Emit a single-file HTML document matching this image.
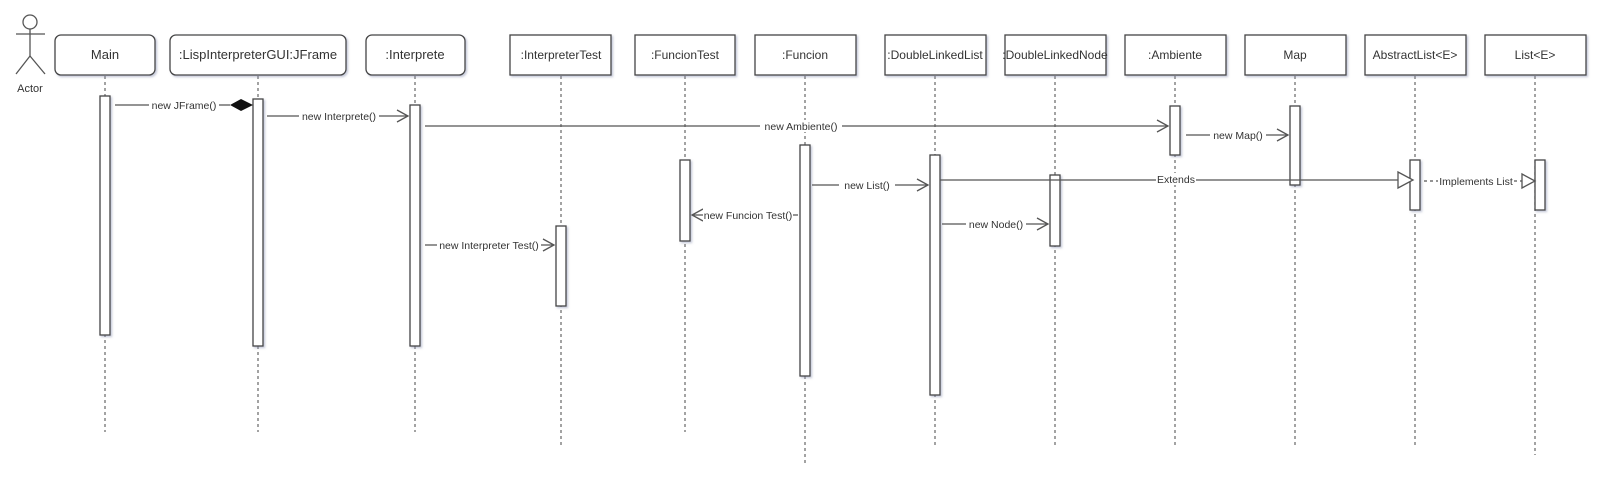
<!DOCTYPE html>
<html><head><style>
html,body{margin:0;padding:0;background:#fff;width:1612px;height:492px;overflow:hidden}
svg text{font-family:"Liberation Sans",sans-serif;fill:#333}
</style></head><body>
<svg width="1612" height="492" viewBox="0 0 1612 492" xmlns="http://www.w3.org/2000/svg">
<defs>
<filter id="sh" x="-20%" y="-20%" width="140%" height="140%"><feDropShadow dx="1.5" dy="1.5" stdDeviation="1" flood-color="#8890b0" flood-opacity="0.5"/></filter>
</defs>
<!-- actor -->
<g stroke="#555" stroke-width="1.3" fill="none">
<circle cx="30" cy="22" r="7" fill="#fff"/>
<line x1="30" y1="29" x2="30" y2="56"/>
<line x1="16" y1="34" x2="45" y2="34"/>
<line x1="30" y1="56" x2="16" y2="74"/>
<line x1="30" y1="56" x2="45" y2="74"/>
</g>
<text x="30" y="92" font-size="11" text-anchor="middle">Actor</text>

<!-- lifelines -->
<g stroke="#666" stroke-width="1.2" stroke-dasharray="3,3">
<line x1="105" y1="76" x2="105" y2="432"/>
<line x1="258" y1="76" x2="258" y2="432"/>
<line x1="415" y1="76" x2="415" y2="432"/>
<line x1="561" y1="76" x2="561" y2="445"/>
<line x1="685" y1="76" x2="685" y2="432"/>
<line x1="805" y1="76" x2="805" y2="463"/>
<line x1="935" y1="76" x2="935" y2="445"/>
<line x1="1055" y1="76" x2="1055" y2="445"/>
<line x1="1175" y1="76" x2="1175" y2="445"/>
<line x1="1295" y1="76" x2="1295" y2="445"/>
<line x1="1415" y1="76" x2="1415" y2="445"/>
<line x1="1535" y1="76" x2="1535" y2="455"/>
</g>

<!-- header boxes -->
<g fill="#fff" stroke="#444" stroke-width="1.3" filter="url(#sh)">
<rect x="55" y="35" width="100" height="40" rx="6"/>
<rect x="170" y="35" width="176" height="40" rx="6"/>
<rect x="366" y="35" width="99" height="40" rx="6"/>
<rect x="510" y="35" width="101" height="40"/>
<rect x="635" y="35" width="100" height="40"/>
<rect x="755" y="35" width="101" height="40"/>
<rect x="885" y="35" width="101" height="40"/>
<rect x="1005" y="35" width="101" height="40"/>
<rect x="1125" y="35" width="101" height="40"/>
<rect x="1245" y="35" width="101" height="40"/>
<rect x="1365" y="35" width="101" height="40"/>
<rect x="1485" y="35" width="101" height="40"/>
</g>
<g font-size="13" text-anchor="middle">
<text x="105" y="59">Main</text>
<text x="258" y="59">:LispInterpreterGUI:JFrame</text>
<text x="415" y="59">:Interprete</text>
<text x="561" y="59" font-size="12">:InterpreterTest</text>
<text x="685" y="59" font-size="12">:FuncionTest</text>
<text x="805" y="59" font-size="12">:Funcion</text>
<text x="935" y="59" font-size="12">:DoubleLinkedList</text>
<text x="1055" y="59" font-size="12">:DoubleLinkedNode</text>
<text x="1175" y="59" font-size="12">:Ambiente</text>
<text x="1295" y="59" font-size="12">Map</text>
<text x="1415" y="59" font-size="12">AbstractList&lt;E&gt;</text>
<text x="1535" y="59" font-size="12">List&lt;E&gt;</text>
</g>

<!-- activations -->
<g fill="#fff" stroke="#444" stroke-width="1.3" filter="url(#sh)">
<rect x="100" y="96" width="10" height="239"/>
<rect x="253" y="99" width="10" height="247"/>
<rect x="410" y="105" width="10" height="241"/>
<rect x="556" y="226" width="10" height="80"/>
<rect x="680" y="160" width="10" height="81"/>
<rect x="800" y="145" width="10" height="231"/>
<rect x="930" y="155" width="10" height="240"/>
<rect x="1050" y="175" width="10" height="71"/>
<rect x="1170" y="106" width="10" height="49"/>
<rect x="1290" y="106" width="10" height="79"/>
<rect x="1410" y="160" width="10" height="50"/>
<rect x="1535" y="160" width="10" height="50"/>
</g>

<!-- messages -->
<g stroke="#555" stroke-width="1.3" fill="none">
<line x1="115" y1="105" x2="230" y2="105"/>
<line x1="267" y1="116" x2="408" y2="116"/>
<polyline points="397,110 408,116 397,122"/>
<line x1="425" y1="126" x2="1168" y2="126"/>
<polyline points="1157,120 1168,126 1157,132"/>
<line x1="1186" y1="135" x2="1288" y2="135"/>
<polyline points="1277,129 1288,135 1277,141"/>
<line x1="940" y1="180" x2="1398" y2="180"/>
<polygon points="1398,172 1413,180 1398,188" fill="#fff"/>
<line x1="1424" y1="181" x2="1522" y2="181" stroke-dasharray="3,3"/>
<polygon points="1522,174 1535,181 1522,188" fill="#fff"/>
<line x1="812" y1="185" x2="928" y2="185"/>
<polyline points="917,179 928,185 917,191"/>
<line x1="692" y1="215" x2="798" y2="215"/>
<polyline points="703,209 692,215 703,221"/>
<line x1="942" y1="224" x2="1048" y2="224"/>
<polyline points="1037,218 1048,224 1037,230"/>
<line x1="425" y1="245" x2="554" y2="245"/>
<polyline points="543,239 554,245 543,251"/>
</g>
<polygon points="230,105 241,99 253,105 241,111" fill="#111"/>

<g font-size="10.5" text-anchor="middle">
<rect x="149" y="99" width="70" height="12" fill="#fff"/><text x="184" y="109">new JFrame()</text>
<rect x="299" y="110" width="80" height="12" fill="#fff"/><text x="339" y="120">new Interprete()</text>
<rect x="760" y="120" width="82" height="12" fill="#fff"/><text x="801" y="130">new Ambiente()</text>
<rect x="1210" y="129" width="56" height="12" fill="#fff"/><text x="1238" y="139">new Map()</text>
<rect x="1156" y="173" width="40" height="12" fill="#fff"/><text x="1176" y="183">Extends</text>
<rect x="1438" y="175" width="76" height="12" fill="#fff"/><text x="1476" y="185">Implements List</text>
<rect x="839" y="179" width="56" height="12" fill="#fff"/><text x="867" y="189">new List()</text>
<rect x="703" y="209" width="90" height="12" fill="#fff"/><text x="748" y="219">new Funcion Test()</text>
<rect x="966" y="218" width="60" height="12" fill="#fff"/><text x="996" y="228">new Node()</text>
<rect x="437" y="239" width="104" height="12" fill="#fff"/><text x="489" y="249">new Interpreter Test()</text>
</g>
</svg>
</body></html>
